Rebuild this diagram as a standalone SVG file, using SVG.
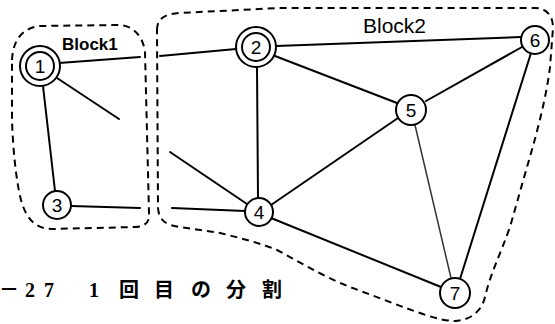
<svg xmlns="http://www.w3.org/2000/svg" width="555" height="324" viewBox="0 0 555 324">
<style>
.edge{stroke:#000;stroke-width:2;fill:none;stroke-linecap:round}
.faint{stroke:#333;stroke-width:1.5}
.block{stroke:#000;stroke-width:2;fill:none;stroke-dasharray:7 5}
.node{fill:#fff;stroke:#000;stroke-width:2}
.num{font-family:"Liberation Sans",Arial,sans-serif;font-size:19px;text-anchor:middle;fill:#000}
.blabel{font-family:"Liberation Sans",Arial,sans-serif;fill:#000}
.cap{font-family:"Liberation Serif","Noto Sans CJK JP",serif;font-size:20px;font-weight:bold;fill:#000}
</style>
<rect width="555" height="324" fill="#fff"/>
<g id="blocks">
<path class="block" d="M 12,60 C 13,40 22,28 40,26 L 118,25 C 133,25 143,36 145,52 L 149,213 C 150,222 145,227 135,227 L 52,229 C 38,229 27,222 21,200 C 16,180 13,150 12,120 Z"/>
<path class="block" d="M 157,30 C 157,18 165,14 180,13 L 280,8 L 535,8 C 545,8 553,14 553,28 L 550,67 C 546,100 535,140 527,167 L 510,227 C 500,255 490,275 485,297 C 482,310 472,320 455,321 C 440,321 420,313 403,307 L 350,287 C 320,275 300,262 277,250 C 260,243 240,238 220,233 L 180,227 C 165,225 159,220 158,208 Z"/>
<text class="blabel" x="62" y="50" font-size="17" font-weight="bold">Block1</text>
<text class="blabel" x="363" y="33" font-size="21">Block2</text>
</g>
<g id="connectors">
<line class="edge" x1="59" y1="63" x2="140" y2="57"/>
<line class="edge" x1="160" y1="56" x2="236" y2="49"/>
<line class="edge" x1="57" y1="78" x2="119" y2="119"/>
<line class="edge" x1="170" y1="152" x2="247" y2="204"/>
<line class="edge" x1="43" y1="86" x2="55" y2="191"/>
<line class="edge" x1="71" y1="206" x2="140" y2="208"/>
<line class="edge" x1="172" y1="208" x2="245" y2="211"/>
<line class="edge" x1="257" y1="68" x2="258" y2="198"/>
<line class="edge" x1="276" y1="46" x2="521" y2="37"/>
<line class="edge" x1="275" y1="56" x2="397" y2="103"/>
<line class="edge" x1="426" y1="101" x2="522" y2="47"/>
<line class="edge" x1="398" y1="118" x2="271" y2="205"/>
<line class="edge faint" x1="415" y1="125" x2="451" y2="278"/>
<line class="edge" x1="531" y1="53" x2="460" y2="279"/>
<line class="edge" x1="271" y1="218" x2="441" y2="287"/>
</g>
<g id="node1">
<circle class="node" cx="40" cy="66" r="20"/>
<circle class="node" cx="40" cy="66" r="14"/>
<text class="num" x="40" y="73">1</text>
</g>
<g id="node2">
<circle class="node" cx="256" cy="47" r="20"/>
<circle class="node" cx="256" cy="47" r="14"/>
<text class="num" x="256" y="54">2</text>
</g>
<g id="node3">
<circle class="node" cx="57" cy="205" r="14"/>
<text class="num" x="57" y="212">3</text>
</g>
<g id="node4">
<circle class="node" cx="259" cy="212" r="14"/>
<text class="num" x="259" y="219">4</text>
</g>
<g id="node5">
<circle class="node" cx="411" cy="110" r="15"/>
<text class="num" x="411" y="117">5</text>
</g>
<g id="node6">
<circle class="node" cx="535" cy="40" r="14"/>
<text class="num" x="535" y="47">6</text>
</g>
<g id="node7">
<circle class="node" cx="455" cy="293" r="15"/>
<text class="num" x="455" y="300" font-family="Liberation Serif" font-size="21">7</text>
</g>
<text class="cap" y="297"><tspan x="-1">－</tspan><tspan x="25">2</tspan><tspan x="44">7</tspan><tspan x="89">1</tspan><tspan x="119">回</tspan><tspan x="154">目</tspan><tspan x="191">の</tspan><tspan x="226">分</tspan><tspan x="262">割</tspan></text>
</svg>
